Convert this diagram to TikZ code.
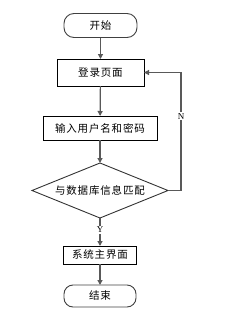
\documentclass[tikz,border=0pt]{standalone}
\usepackage{fontspec}
\newfontfamily\cjk[LetterSpace=8]{Noto Sans CJK SC}
\newfontfamily\lat{Liberation Serif}
\usetikzlibrary{shapes.geometric,arrows.meta}
\begin{document}
\begin{tikzpicture}[x=1pt,y=-1pt,
  every node/.style={inner sep=0pt,outer sep=0pt},
  txt/.style={font=\cjk\fontsize{10.5}{12}\selectfont},
  term/.style={txt,draw=black!75,line width=0.9pt,rounded corners=10pt,minimum width=73pt,minimum height=24pt},
  procbox/.style={txt,draw=black,line width=1pt},
  decide/.style={txt,draw=black!80,line width=0.9pt,diamond,aspect=2.47,minimum width=136pt,minimum height=55pt},
  conn/.style={draw=black!65,line width=1.2pt,-{Triangle[length=5pt,width=5pt]}},
  lbl/.style={font=\lat\fontsize{9}{10}\selectfont,fill=white,inner sep=1pt}]
\useasboundingbox (0,0) rectangle (225,314);
\node[term] (start) at (100.5,25.5) {开始};
\node[procbox,minimum width=87pt,minimum height=27pt] (login) at (100.5,72.5) {登录页面};
\node[procbox,minimum width=114pt,minimum height=24pt] (input) at (100,128) {输入用户名和密码};
\node[decide] (match) at (100,190.5) {与数据库信息匹配};
\node[procbox,minimum width=73pt,minimum height=18pt] (sys) at (100,255) {系统主界面};
\node[term,minimum height=22pt,rounded corners=9pt,minimum width=72pt] (end) at (100,296) {结束};
\coordinate (c1) at (181,190.5);
\coordinate (c2) at (181,72.5);
\draw[conn] (start) -- (login);
\draw[conn] (login) -- (input);
\draw[conn] (input) -- (match);
\draw[conn] (match) -- node[lbl,pos=0.43] {Y} (sys);
\draw[conn] (sys) -- (end);
\draw[conn] (match.east) -- (c1) -- node[lbl,pos=0.63] {N} (c2) -- (login.east);
\end{tikzpicture}
\end{document}
